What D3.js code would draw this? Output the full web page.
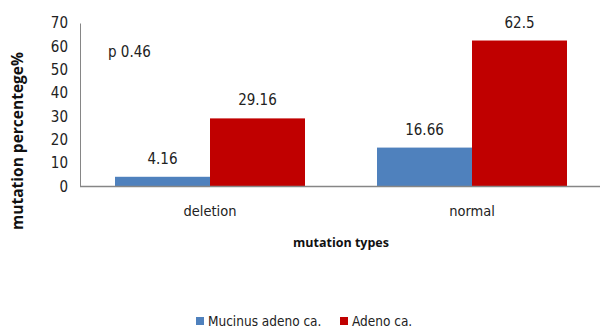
<!DOCTYPE html>
<html>
<head>
<meta charset="utf-8">
<script src="https://cdn.jsdelivr.net/npm/d3@7"></script>
<style>
  html, body { margin: 0; padding: 0; background: #fff; }
  svg { display: block; }
  .narrow { font-family: "DejaVu Sans Condensed", "DejaVu Sans", sans-serif; font-stretch: condensed; fill: #222; }
  .title { font-family: "Open Sans", sans-serif; font-weight: bold; fill: #111; }
</style>
</head>
<body>
<svg id="chart" width="600" height="329"></svg>
<script>
// Mutation percentage by mutation type, split by tumour type
const categories = ["deletion", "normal"];
const seriesNames = ["Mucinus adeno ca.", "Adeno ca."];
const seriesColors = ["#4F81BD", "#C00000"];
const mucinusValues = [4.16, 16.66];
const adenoValues = [29.16, 62.5];
const valueLabels = [["4.16", "16.66"], ["29.16", "62.5"]];
const yTicks = [0, 10, 20, 30, 40, 50, 60, 70];
const annotation = "p 0.46";

const svg = d3.select("#chart");
const plotLeft = 80, plotRight = 600, plotTop = 23, plotBottom = 186.5;

// category bands: centre of each group, two bars side by side
const x = d3.scaleBand().domain(categories).range([79, 603]).paddingInner(0).paddingOuter(0);
const inner = d3.scaleBand().domain([0, 1]).range([0, x.bandwidth()]).paddingInner(0).paddingOuter(0.379);
const y = d3.scaleLinear().domain([0, 70]).range([plotBottom, plotTop]);

const series = [mucinusValues, adenoValues];

// Bars
series.forEach((vals, si) => {
  svg.append("g").selectAll("rect")
    .data(vals)
    .join("rect")
    .attr("x", (d, i) => x(categories[i]) + inner(si))
    .attr("width", inner.bandwidth())
    .attr("y", d => y(d))
    .attr("height", d => y(0) - y(d))
    .attr("fill", seriesColors[si]);
});

// Value labels above bars
series.forEach((vals, si) => {
  svg.append("g").selectAll("text")
    .data(vals)
    .join("text")
    .attr("class", "narrow")
    .attr("font-size", 15)
    .attr("text-anchor", "middle")
    .attr("x", (d, i) => x(categories[i]) + inner(si) + inner.bandwidth() / 2)
    .attr("y", d => y(d) - 13)
    .text((d, i) => valueLabels[si][i]);
});

// Y axis
const yAxis = d3.axisLeft(y).tickValues(yTicks).tickSize(0).tickPadding(12);
const gy = svg.append("g").attr("transform", `translate(${plotLeft},0)`).call(yAxis);
gy.select(".domain").attr("stroke", "#868686").attr("stroke-width", 1);
gy.selectAll("text").attr("class", "narrow").attr("font-size", 15).attr("fill", "#222");

// X axis baseline and category labels
const xAxis = d3.axisBottom(x).tickSize(0).tickPadding(19);
const gx = svg.append("g").attr("transform", `translate(0,${plotBottom})`).call(xAxis);
gx.select(".domain").attr("d", `M${plotLeft},0H${plotRight}`).attr("stroke", "#868686").attr("stroke-width", 1.5);
gx.selectAll("text").attr("class", "narrow").attr("font-size", 14.5).attr("fill", "#222");

// Axis titles
svg.append("text").attr("class", "title").attr("font-size", 12.5)
  .attr("text-anchor", "middle").attr("x", 341).attr("y", 247)
  .text("mutation types");
svg.append("text").attr("class", "title").attr("font-size", 15.5)
  .attr("text-anchor", "middle")
  .attr("transform", "translate(23,141) rotate(-90)")
  .text("mutation percentege%");

// Annotation
svg.append("text").attr("class", "narrow").attr("font-size", 15)
  .attr("x", 108).attr("y", 57).text(annotation);

// Legend
const legendX = [196, 340];
const lg = svg.append("g").selectAll("g").data(seriesNames).join("g")
  .attr("transform", (d, i) => `translate(${legendX[i]},317)`);
lg.append("rect").attr("width", 8).attr("height", 8).attr("fill", (d, i) => seriesColors[i]);
lg.append("text").attr("class", "narrow").attr("font-size", 13.5)
  .attr("x", 12).attr("y", 9).text(d => d);
</script>
</body>
</html>
